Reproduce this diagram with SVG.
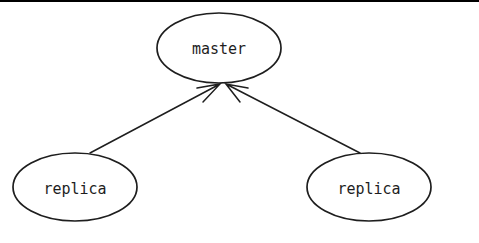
<svg xmlns="http://www.w3.org/2000/svg" width="479" height="243" viewBox="0 0 479 243">
<style>
.n{fill:none;stroke:#1e1e1e;stroke-width:1.7}
.c{fill:none;stroke:#1e1e1e;stroke-width:1.5;stroke-linecap:round}
.t{font-family:"DejaVu Sans Mono","Liberation Mono",monospace;font-size:15px;fill:#1e1e1e;text-anchor:middle;dominant-baseline:central}
</style>
<rect x="0" y="0" width="479" height="2" fill="#000"/>
<g id="master">
<ellipse class="n" cx="219" cy="48" rx="62" ry="35"/>
<text class="t" x="219" y="49">master</text>
</g>
<g id="replica-left">
<ellipse class="n" cx="75" cy="187" rx="62" ry="34"/>
<text class="t" x="75" y="189">replica</text>
</g>
<g id="replica-right">
<ellipse class="n" cx="369" cy="187" rx="62" ry="34"/>
<text class="t" x="369" y="189">replica</text>
</g>
<g id="connectors">
<path class="c" d="M90 153 L220 84 M197 88 L220 84 L203 102"/>
<path class="c" d="M360 153 L226 84 M248 88 L226 84 L240 102"/>
</g>
</svg>
